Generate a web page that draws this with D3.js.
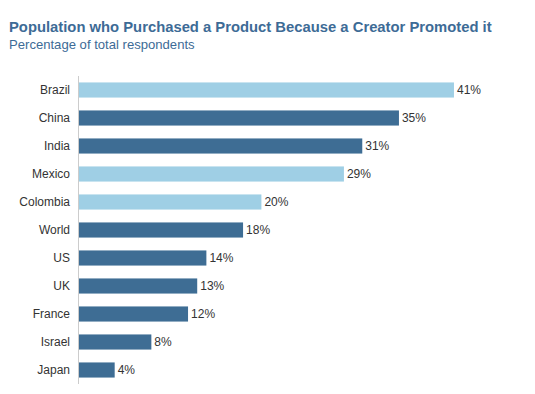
<!DOCTYPE html>
<html>
<head>
<meta charset="utf-8">
<script src="https://cdn.jsdelivr.net/npm/d3@7"></script>
<style>
  body { margin: 0; background: #fff; }
  svg { font-family: "Liberation Sans", Arial, sans-serif; }
</style>
</head>
<body>
<svg id="chart" width="535" height="394"></svg>
<script>
const countries = ["Brazil", "China", "India", "Mexico", "Colombia", "World", "US", "UK", "France", "Israel", "Japan"];
const values = [41, 35, 31, 29, 20, 18, 14, 13, 12, 8, 4];
// light bars are the latin american markets
const highlighted = ["Brazil", "Mexico", "Colombia"];

const data = countries.map((c, i) => ({key: c, value: values[i]}));

const svg = d3.select("#chart");
const margin = {left: 78, top: 76};

svg.append("text")
  .attr("x", 9).attr("y", 31.5)
  .attr("fill", "#3d6b96")
  .attr("font-weight", "bold")
  .attr("font-size", 14.8)
  .text("Population who Purchased a Product Because a Creator Promoted it");

svg.append("text")
  .attr("x", 9).attr("y", 48.5)
  .attr("fill", "#3d6b96")
  .attr("font-size", 13.1)
  .text("Percentage of total respondents");

const x = d3.scaleLinear().domain([0, 45]).range([margin.left, margin.left + 45 * 9.17]);
const y = d3.scaleBand().domain(countries).range([76, 384]).paddingInner(0.46).paddingOuter(0.23);

svg.append("g")
  .selectAll("rect")
  .data(data)
  .join("rect")
  .attr("x", x(0))
  .attr("y", d => y(d.key))
  .attr("width", d => x(d.value) - x(0))
  .attr("height", y.bandwidth())
  .attr("fill", d => highlighted.includes(d.key) ? "#9fcfe5" : "#3e6d94");

svg.append("g")
  .selectAll("text")
  .data(data)
  .join("text")
  .attr("x", d => x(d.value) + 3)
  .attr("y", d => y(d.key) + y.bandwidth() / 2)
  .attr("dy", "0.35em")
  .attr("font-size", 12)
  .attr("fill", "#333")
  .text(d => d.value + "%");

const axis = svg.append("g")
  .attr("transform", `translate(${x(0)},0)`)
  .call(d3.axisLeft(y).tickSize(0).tickPadding(8));
axis.select(".domain").attr("stroke", "#ccc").attr("d", "M0.5,76V384");
axis.selectAll("text")
  .attr("font-size", 12)
  .attr("font-family", "Liberation Sans, Arial, sans-serif")
  .attr("fill", "#333");
</script>
</body>
</html>
